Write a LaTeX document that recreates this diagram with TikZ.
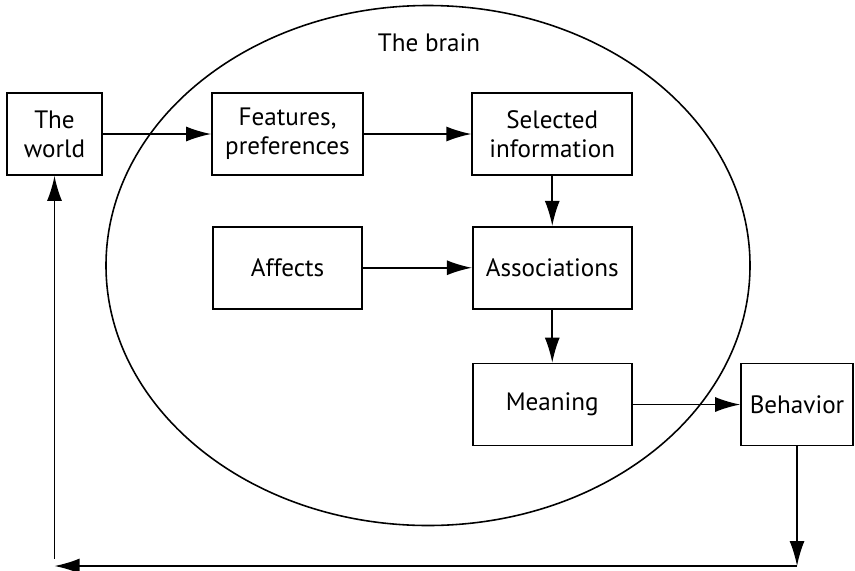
\documentclass[tikz,border=0pt]{standalone}
\usepackage{fontspec}
\setmainfont{PT Sans}
\usetikzlibrary{arrows.meta,positioning,shapes.geometric}

\begin{document}
\begin{tikzpicture}[>={Latex[length=5mm,width=3mm]},node distance=1cm and 2.15cm]
\tikzstyle{B}=[draw,line width=1pt,minimum height=1.64cm,align=center,font=\fontsize{14.3}{16.5}\selectfont]
\useasboundingbox (0,0) rectangle (17.1,-11.4);
% the brain
\node[draw,ellipse,line width=0.9pt,minimum width=12.88cm,minimum height=10.4cm] (brain) at (8.56,-5.31) {};
\node[font=\fontsize{14.3}{16.5}\selectfont] (brainlbl) at (8.58,-0.86) {The brain};
% boxes
\node[B,minimum width=1.9cm] (world) at (1.09,-2.68) {The\\world};
\node[B,minimum width=3.02cm] (feat) at (5.75,-2.68) {Features,\\preferences};
\node[B,minimum width=3.2cm,right=of feat] (sel) {Selected\\information};
\node[B,minimum width=2.98cm,below=of feat] (aff) {Affects};
\node[B,minimum width=3.18cm,below=of sel] (assoc) {Associations};
\node[B,minimum width=3.18cm,below=1.06cm of assoc] (mean) {Meaning};
\node[B,minimum width=2.24cm,right=of mean] (behav) {Behavior};
\coordinate (br) at (behav.south |- 0,-11.32);
\coordinate (bl) at (world.south |- 0,-11.32);
% arrows
\draw[->,line width=0.9pt] (world)--(feat);
\draw[->,line width=0.9pt] (feat)--(sel);
\draw[->,line width=0.9pt] (sel)--(assoc);
\draw[->,line width=0.9pt] (aff)--(assoc);
\draw[->,line width=0.9pt] (assoc)--(mean);
\draw[->,line width=0.9pt] (mean)--(behav);
\draw[->,line width=0.9pt] (behav.south)--(br);
\draw[->,line width=0.9pt] (br)--(bl);
\draw[->,line width=0.9pt] ([yshift=1.5mm]bl)--(world.south);
\end{tikzpicture}
\end{document}
